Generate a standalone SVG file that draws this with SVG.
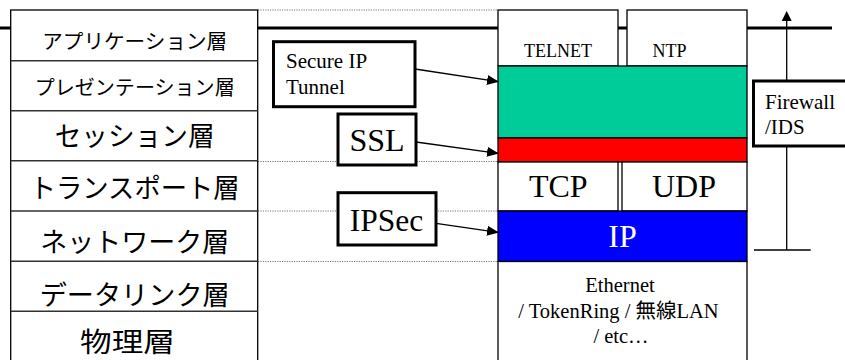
<svg xmlns="http://www.w3.org/2000/svg" width="845" height="360" viewBox="0 0 845 360">
  <style>
    .jp { font-family: "Noto Sans CJK JP", "Noto Sans", sans-serif; fill: #000; text-anchor: middle; }
    .tm { font-family: "Liberation Serif", "Noto Sans CJK JP", serif; fill: #000; }
    .mid { text-anchor: middle; }
    .cell { fill: #fff; stroke: #000; stroke-width: 1.3; }
    .box { fill: #fff; stroke: #000; stroke-width: 3; }
    .dot { stroke: #777; stroke-width: 1; stroke-dasharray: 1.2 1.2; fill: none; }
    .bar { stroke: #000; stroke-width: 3; fill: none; }
    .link { stroke: #000; stroke-width: 1.3; fill: none; marker-end: url(#head); }
  </style>
  <defs>
    <marker id="head" markerWidth="12" markerHeight="10" refX="11" refY="5" orient="auto" markerUnits="userSpaceOnUse">
      <path d="M0,0 L12,5 L0,10 Z" fill="#000"/>
    </marker>
  </defs>

  <rect width="845" height="360" fill="#fff"/>

  <!-- horizon rule and row guides -->
  <g id="guides">
    <path class="bar" d="M0,28 H11 M257,28 H498 M618,28 H627 M747,28 H832"/>
    <path class="dot" d="M258,10 H498 M258,161.5 H498 M258,211 H498 M258,261.5 H498"/>
  </g>

  <!-- OSI reference model layers -->
  <g id="osi-layers">
    <rect class="cell" x="10.7" y="10" width="247" height="360"/>
    <path d="M10.7,60.7 H257.7 M10.7,110.7 H257.7 M10.7,160.7 H257.7 M10.7,211 H257.7 M10.7,261.3 H257.7 M10.7,311.3 H257.7" stroke="#333" stroke-width="1.6"/>
    <text class="jp" x="134.7" y="48.5" font-size="20.5" textLength="185" lengthAdjust="spacingAndGlyphs">アプリケーション層</text>
    <text class="jp" x="134.7" y="95" font-size="20" textLength="200" lengthAdjust="spacingAndGlyphs">プレゼンテーション層</text>
    <text class="jp" x="134.7" y="146" font-size="27" textLength="160" lengthAdjust="spacingAndGlyphs">セッション層</text>
    <text class="jp" x="134.7" y="198" font-size="27" textLength="210" lengthAdjust="spacingAndGlyphs">トランスポート層</text>
    <text class="jp" x="134.7" y="251.5" font-size="27" textLength="189" lengthAdjust="spacingAndGlyphs">ネットワーク層</text>
    <text class="jp" x="134.7" y="304.5" font-size="27" textLength="190" lengthAdjust="spacingAndGlyphs">データリンク層</text>
    <text class="jp" x="127.5" y="351.5" font-size="27" textLength="95" lengthAdjust="spacingAndGlyphs">物理層</text>
  </g>

  <!-- TCP/IP protocol stack -->
  <g id="telnet">
    <rect class="cell" x="498" y="10" width="120" height="56"/>
    <text class="tm mid" x="558" y="56.5" font-size="18">TELNET</text>
  </g>
  <g id="ntp">
    <rect class="cell" x="627" y="10" width="120" height="56"/>
    <text class="tm mid" x="669.5" y="56.5" font-size="18">NTP</text>
  </g>
  <g id="secure-tunnel-layer">
    <rect x="498" y="66" width="249" height="72" fill="#00CC99" stroke="#000" stroke-width="1.3"/>
  </g>
  <g id="ssl-layer">
    <rect x="498" y="138" width="249" height="24" fill="#FF0000" stroke="#000" stroke-width="1.3"/>
  </g>
  <g id="tcp">
    <rect class="cell" x="498" y="162" width="120" height="49"/>
    <text class="tm mid" x="558.3" y="196.5" font-size="32">TCP</text>
  </g>
  <g id="udp">
    <rect class="cell" x="622" y="162" width="125" height="49"/>
    <text class="tm mid" x="684" y="196.5" font-size="32">UDP</text>
  </g>
  <g id="ip">
    <rect x="498" y="211" width="249" height="50.5" fill="#0000FF" stroke="#000" stroke-width="1.3"/>
    <text class="tm mid" x="622.5" y="247" font-size="32" style="fill:#fff">IP</text>
  </g>
  <g id="link-layer">
    <rect class="cell" x="498" y="261.5" width="249" height="110"/>
    <text class="tm mid" x="620" y="292" font-size="20.5">Ethernet</text>
    <text class="tm mid" x="618.5" y="317.5" font-size="20.5">/ TokenRing / 無線LAN</text>
    <text class="tm mid" x="621" y="343" font-size="20.5">/ etc…</text>
  </g>

  <!-- security mechanisms -->
  <g id="secure-ip-tunnel">
    <rect class="box" x="273.5" y="41.7" width="141.5" height="65"/>
    <text class="tm" x="286" y="68" font-size="21">Secure IP</text>
    <text class="tm" x="286" y="94" font-size="21">Tunnel</text>
  </g>
  <g id="ssl">
    <rect class="box" x="338" y="114" width="78" height="51"/>
    <text class="tm mid" x="377" y="150.5" font-size="32">SSL</text>
  </g>
  <g id="ipsec">
    <rect class="box" x="338" y="192.7" width="98" height="52.3"/>
    <text class="tm mid" x="386.5" y="230.5" font-size="31.5">IPSec</text>
  </g>
  <g id="firewall-ids">
    <rect class="box" x="753.5" y="81" width="100" height="65"/>
    <text class="tm" x="765" y="108.5" font-size="21">Firewall</text>
    <text class="tm" x="765" y="134" font-size="21">/IDS</text>
  </g>

  <!-- connectors -->
  <g id="connectors">
    <line class="link" x1="415" y1="69" x2="498" y2="81.7"/>
    <line class="link" x1="416" y1="142" x2="498" y2="153.3"/>
    <line class="link" x1="436" y1="223.3" x2="498" y2="232.3"/>
    <line x1="786.7" y1="81" x2="786.7" y2="20" stroke="#000" stroke-width="1.3"/>
    <path d="M786.7,11 L791.7,21 L781.7,21 Z" fill="#000"/>
    <line x1="786.7" y1="146" x2="786.7" y2="250" stroke="#000" stroke-width="1.3"/>
    <line x1="754" y1="250" x2="810.7" y2="250" stroke="#000" stroke-width="1.3"/>
  </g>
</svg>
